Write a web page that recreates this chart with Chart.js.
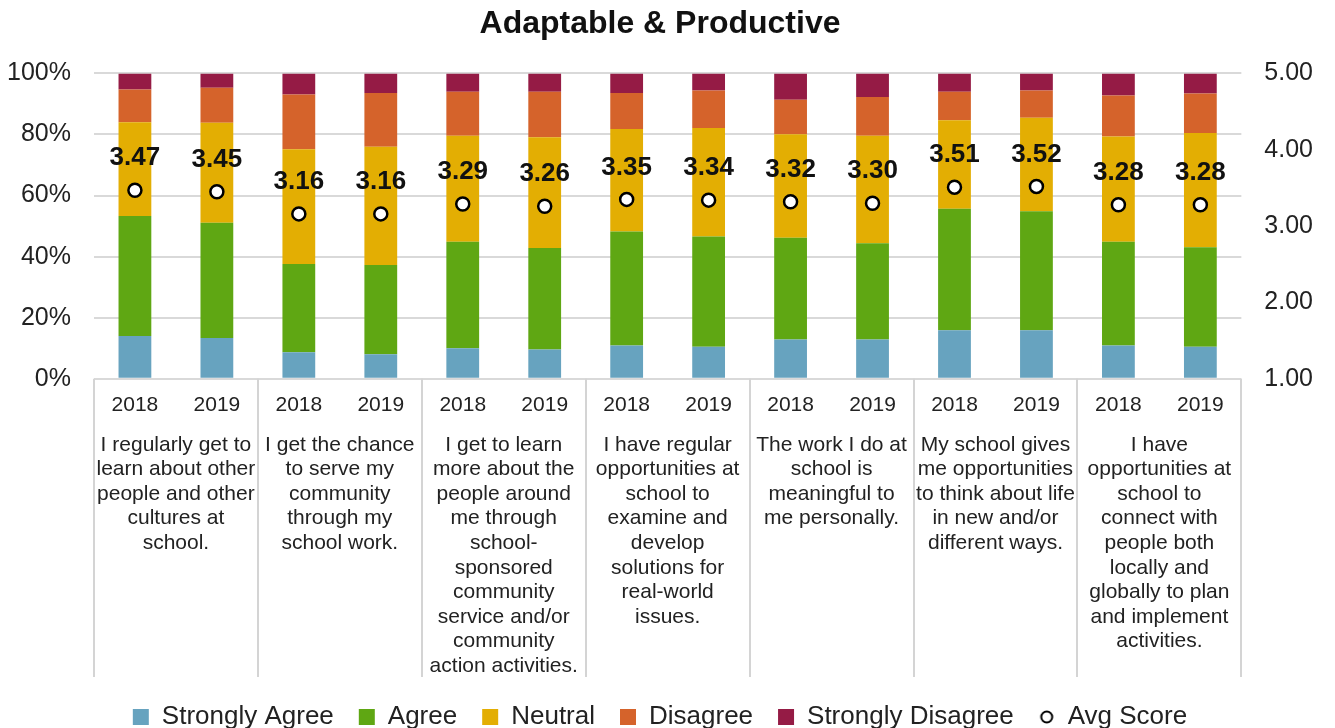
<!DOCTYPE html>
<html lang="en">
<head>
    <meta charset="UTF-8">
    <title>Adaptable & Productive</title>
    <script src="https://cdn.jsdelivr.net/npm/chart.js"></script>
    <style>
        html, body { margin: 0; padding: 0; background: #fff; }
    </style>
</head>
<body>
    <canvas id="surveyChart" width="1335" height="728"></canvas>

    <script>
        const years = ['2018', '2019', '2018', '2019', '2018', '2019', '2018', '2019', '2018', '2019', '2018', '2019', '2018', '2019'];
        const groupLabels = [
            ['I regularly get to', 'learn about other', 'people and other', 'cultures at', 'school.'],
            ['I get the chance', 'to serve my', 'community', 'through my', 'school work.'],
            ['I get to learn', 'more about the', 'people around', 'me through', 'school-', 'sponsored', 'community', 'service and/or', 'community', 'action activities.'],
            ['I have regular', 'opportunities at', 'school to', 'examine and', 'develop', 'solutions for', 'real-world', 'issues.'],
            ['The work I do at', 'school is', 'meaningful to', 'me personally.'],
            ['My school gives', 'me opportunities', 'to think about life', 'in new and/or', 'different ways.'],
            ['I have', 'opportunities at', 'school to', 'connect with', 'people both', 'locally and', 'globally to plan', 'and implement', 'activities.']
        ];

        // percentages per bar
        const stronglyAgree    = [14.0, 13.4, 8.7, 8.0, 10.0, 9.6, 10.9, 10.5, 12.9, 12.9, 15.9, 15.9, 10.9, 10.5];
        const agree            = [39.3, 37.7, 28.9, 29.3, 34.9, 33.2, 37.3, 36.1, 33.3, 31.5, 39.8, 39.0, 34.0, 32.6];
        const neutral          = [30.7, 32.7, 37.6, 38.7, 34.7, 36.3, 33.6, 35.5, 33.9, 35.2, 29.0, 30.6, 34.4, 37.4];
        const disagree         = [10.7, 11.5, 17.9, 17.6, 14.4, 14.9, 11.8, 12.3, 11.3, 12.7, 9.3, 8.9, 13.5, 12.9];
        const stronglyDisagree = [5.3, 4.7, 6.9, 6.4, 6.0, 6.0, 6.4, 5.6, 8.6, 7.7, 6.0, 5.6, 7.2, 6.6];
        const avgScore         = [3.47, 3.45, 3.16, 3.16, 3.29, 3.26, 3.35, 3.34, 3.32, 3.30, 3.51, 3.52, 3.28, 3.28];

        const fontFamily = "Arial, 'Liberation Sans', sans-serif";
        const textColor = '#222';

        // small hollow circle for the legend entry
        const legendDot = document.createElement('canvas');
        legendDot.width = 16;
        legendDot.height = 16;
        (function () {
            const c = legendDot.getContext('2d');
            c.beginPath();
            c.arc(8, 8, 5.5, 0, Math.PI * 2);
            c.fillStyle = '#fff';
            c.fill();
            c.lineWidth = 2;
            c.strokeStyle = '#000';
            c.stroke();
        })();

        // avg score numbers above the circles
        const scoreLabels = {
            id: 'scoreLabels',
            afterDatasetsDraw(chart) {
                const ctx = chart.ctx;
                const meta = chart.getDatasetMeta(5);
                ctx.save();
                ctx.font = 'bold 26px ' + fontFamily;
                ctx.fillStyle = '#111';
                ctx.textAlign = 'center';
                ctx.textBaseline = 'middle';
                meta.data.forEach((pt, i) => {
                    ctx.fillText(avgScore[i].toFixed(2), pt.x, pt.y - 32);
                });
                ctx.restore();
            }
        };

        // vertical lines between the question groups
        const groupLines = {
            id: 'groupLines',
            afterDraw(chart) {
                const ctx = chart.ctx;
                const area = chart.chartArea;
                const x2 = chart.scales.x2;
                const w = (area.right - area.left) / groupLabels.length;
                ctx.save();
                ctx.strokeStyle = '#d4d4d4';
                ctx.lineWidth = 2;
                for (let i = 0; i <= groupLabels.length; i++) {
                    const x = Math.round(area.left + i * w);
                    ctx.beginPath();
                    ctx.moveTo(x, area.bottom);
                    ctx.lineTo(x, x2.bottom - 2);
                    ctx.stroke();
                }
                ctx.restore();
            }
        };

        const barDefaults = {
            type: 'bar',
            stack: 'pct',
            yAxisID: 'y',
            xAxisID: 'x',
            barPercentage: 0.4,
            categoryPercentage: 1.0,
            borderWidth: 0,
            order: 1
        };

        const ctx = document.getElementById('surveyChart').getContext('2d');
        const chart = new Chart(ctx, {
            type: 'bar',
            data: {
                labels: years,
                datasets: [
                    { ...barDefaults, label: 'Strongly Agree', data: stronglyAgree, backgroundColor: '#67a3bf' },
                    { ...barDefaults, label: 'Agree', data: agree, backgroundColor: '#5fa713' },
                    { ...barDefaults, label: 'Neutral', data: neutral, backgroundColor: '#e3ae03' },
                    { ...barDefaults, label: 'Disagree', data: disagree, backgroundColor: '#d5632b' },
                    { ...barDefaults, label: 'Strongly Disagree', data: stronglyDisagree, backgroundColor: '#951b45' },
                    {
                        type: 'line',
                        label: 'Avg Score',
                        data: avgScore,
                        yAxisID: 'y1',
                        xAxisID: 'x',
                        showLine: false,
                        pointRadius: 6.5,
                        pointBorderWidth: 2.5,
                        pointBackgroundColor: '#fff',
                        pointBorderColor: '#000',
                        backgroundColor: '#fff',
                        borderColor: '#000',
                        pointStyle: 'circle',
                        order: 0
                    }
                ]
            },
            options: {
                responsive: false,
                animation: false,
                layout: { padding: { left: -16, right: -1, top: 0, bottom: -12 } },
                plugins: {
                    title: {
                        display: true,
                        text: 'Adaptable & Productive',
                        color: '#111',
                        font: { family: fontFamily, size: 32, weight: 'bold' },
                        padding: { top: 5, bottom: 30 }
                    },
                    legend: {
                        position: 'bottom',
                        labels: {
                            usePointStyle: true,
                            boxWidth: 16,
                            boxHeight: 16,
                            padding: 25,
                            color: textColor,
                            font: { family: fontFamily, size: 26 },
                            sort: (a, b) => a.datasetIndex - b.datasetIndex,
                            generateLabels(chart) {
                                const items = Chart.defaults.plugins.legend.labels.generateLabels(chart);
                                items.forEach(it => {
                                    if (it.datasetIndex < 5) {
                                        it.pointStyle = 'rect';
                                        it.lineWidth = 0;
                                    } else {
                                        it.pointStyle = legendDot;
                                    }
                                });
                                return items;
                            }
                        }
                    },
                    tooltip: { enabled: false }
                },
                scales: {
                    x: {
                        stacked: true,
                        grid: { display: false },
                        border: { display: false },
                        ticks: {
                            color: textColor,
                            font: { family: fontFamily, size: 21 },
                            padding: 6,
                            autoSkip: false,
                            maxRotation: 0,
                            minRotation: 0
                        }
                    },
                    x2: {
                        type: 'category',
                        labels: groupLabels,
                        position: 'bottom',
                        offset: true,
                        grid: { display: false },
                        border: { display: false },
                        ticks: {
                            color: textColor,
                            font: { family: fontFamily, size: 21, lineHeight: '24.6px' },
                            padding: 0.5,
                            autoSkip: false,
                            maxRotation: 0,
                            minRotation: 0
                        }
                    },
                    y: {
                        stacked: true,
                        min: 0,
                        max: 100,
                        position: 'left',
                        border: { display: false },
                        grid: { color: '#d9d9d9', lineWidth: 2, drawTicks: false },
                        ticks: {
                            stepSize: 20,
                            padding: 23,
                            color: textColor,
                            font: { family: fontFamily, size: 25 },
                            callback: v => v + '%'
                        }
                    },
                    y1: {
                        min: 1,
                        max: 5,
                        position: 'right',
                        border: { display: false },
                        grid: { drawOnChartArea: false, drawTicks: false },
                        ticks: {
                            stepSize: 1,
                            padding: 23,
                            color: textColor,
                            font: { family: fontFamily, size: 25 },
                            callback: v => v.toFixed(2)
                        }
                    }
                }
            },
            plugins: [scoreLabels, groupLines]
        });
    </script>
</body>
</html>
